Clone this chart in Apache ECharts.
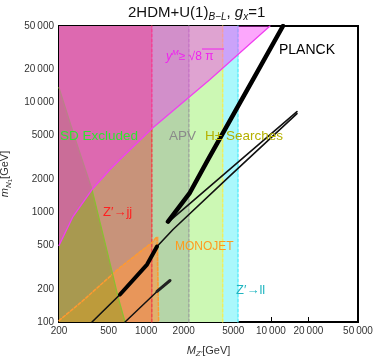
<!DOCTYPE html>
<html>
<head>
<meta charset="utf-8">
<script src="https://cdn.jsdelivr.net/npm/echarts@6.0.0/dist/echarts.min.js"></script>
<style>
  html, body { margin: 0; padding: 0; background: #fff; }
  #chart { width: 374px; height: 360px; }
</style>
</head>
<body>
<div id="chart"></div>
<script>
// axis ticks
const xTicks = [200, 500, 1000, 2000, 5000, 10000, 20000, 50000];
const yTicks = [100, 200, 500, 1000, 2000, 5000, 10000, 20000, 50000];

// exclusion limits on M_Z' (GeV)
const zllLimit = 5450;
const hpmLimit = 4110;
const apvLimit = 2200;
const zjjLimit = 1110;

// region edges [M_Z', m_N1]
const yukawaEdge = [[200, 498], [259, 915], [368, 1614], [513, 2455], [617, 3030], [1114, 5806], [3250, 16240], [9840, 50000]];
const sdEdge = [[200, 13700], [268, 4800], [368, 1614], [494, 412], [594, 171], [677, 100]];
const monojetEdge = [[200, 103], [306, 154], [617, 314], [1114, 530], [1222, 600], [1260, 600], [1260, 100]];

// relic density curves
const planckBranch = [[12510, 50000], [7187, 16240], [3133, 3030], [2246, 1515], [1497, 824]];
const relicUpper = [[1497, 824], [1554, 842], [4700, 2481], [16200, 8298]];
const relicLower = [[368, 100], [617, 178], [1016, 334], [1222, 488], [1642, 697], [4700, 2150], [16200, 7955]];
const relicLowerThick = [[617, 178], [1016, 334], [1222, 488]];
const relicSecond = [[677, 100], [1222, 190], [1554, 239]];
const relicSecondThick = [[1222, 190], [1554, 239]];

const xMin = 200, xMax = 50000, yMin = 100, yMax = 50000;

function fmt(v) {
  return v >= 10000 ? String(v).replace(/(\d+)(\d{3})$/, '$1\u2009$2') : String(v);
}

function areaSeries(pts, color, z) {
  return {
    type: 'custom',
    silent: true,
    clip: true,
    z: z,
    data: pts,
    renderItem: function (params, api) {
      if (params.dataIndex !== 0) return null;
      return {
        type: 'polygon',
        shape: { points: pts.map(function (p) { return api.coord(p); }) },
        style: { fill: color }
      };
    }
  };
}

function strip(limit) {
  return [[xMin, yMin], [xMin, yMax], [limit, yMax], [limit, yMin]];
}

function lineSeries(data, color, width, type, z) {
  return {
    type: 'line',
    data: data,
    showSymbol: false,
    silent: true,
    z: z,
    clip: true,
    lineStyle: { color: color, width: width, type: type || 'solid', cap: 'round', join: 'round' }
  };
}

const chart = echarts.init(document.getElementById('chart'));

const font = '"Liberation Sans", Arial, sans-serif';

const option = {
  animation: false,
  grid: {
    left: 59, right: 16, top: 26, bottom: 38, outerBoundsMode: 'none',
    show: true, borderColor: '#000', borderWidth: 2, backgroundColor: 'transparent'
  },
  xAxis: {
    type: 'log', min: xMin, max: xMax,
    name: '{i|M}{s|Z\u2032}{n|[GeV]}', nameLocation: 'middle', nameGap: 22,
    nameTextStyle: {
      rich: {
        i: { fontFamily: font, fontStyle: 'italic', fontSize: 11, color: '#333' },
        s: { fontFamily: font, fontStyle: 'italic', fontSize: 8, color: '#333', padding: [6, 0, 0, 0] },
        n: { fontFamily: font, fontSize: 11, color: '#333' }
      }
    },
    axisLine: { show: false },
    axisTick: { inside: true, length: 5, customValues: xTicks, lineStyle: { color: '#000', width: 1 } },
    axisLabel: { customValues: xTicks, formatter: fmt, fontFamily: font, fontSize: 10, color: '#333', margin: 4 },
    minorTick: { show: false },
    splitLine: { show: false }
  },
  yAxis: {
    type: 'log', min: yMin, max: yMax,
    name: '{i|m}{s|N}{ss|1}{n|[GeV]}', nameLocation: 'middle', nameGap: 44,
    nameTextStyle: {
      rich: {
        i: { fontFamily: font, fontStyle: 'italic', fontSize: 11, color: '#333' },
        s: { fontFamily: font, fontStyle: 'italic', fontSize: 8, color: '#333', padding: [6, 0, 0, 0] },
        ss: { fontFamily: font, fontSize: 6, color: '#333', padding: [10, 0, 0, 0] },
        n: { fontFamily: font, fontSize: 11, color: '#333' }
      }
    },
    axisLine: { show: false },
    axisTick: { inside: true, length: 5, customValues: yTicks, lineStyle: { color: '#000', width: 1 } },
    axisLabel: { customValues: yTicks, formatter: fmt, fontFamily: font, fontSize: 10, color: '#333', margin: 5 },
    minorTick: { show: false },
    splitLine: { show: false }
  },
  series: [
    areaSeries(strip(zllLimit), '#aaf8fc', 1),
    areaSeries(strip(hpmLimit), '#ccf8b4', 2),
    areaSeries(strip(apvLimit), '#b5d5a8', 3),
    areaSeries(strip(zjjLimit), '#c8937a', 4),
    areaSeries([[xMin, yMin]].concat(monojetEdge), 'rgba(253,152,69,0.6)', 5),
    areaSeries([[xMin, yMin]].concat(sdEdge), 'rgba(108,167,2,0.35)', 6),
    lineSeries([[zllLimit, yMin], [zllLimit, yMax]], '#5eeefc', 1.5, [3, 2], 7),
    lineSeries([[hpmLimit, yMin], [hpmLimit, yMax]], '#eef060', 1.5, [3, 2], 7),
    lineSeries([[apvLimit, yMin], [apvLimit, yMax]], '#a0a8a0', 1.5, [3, 2], 7),
    lineSeries([[zjjLimit, yMin], [zjjLimit, yMax]], '#f04848', 1.5, [3, 2], 7),
    lineSeries(monojetEdge, '#ff9a30', 1.5, [3, 2], 7),
    lineSeries(sdEdge, '#88c030', 1.2, 'solid', 7),
    areaSeries(yukawaEdge.concat([[xMin, yMax]]), 'rgba(248,51,248,0.43)', 8),
    lineSeries(yukawaEdge, '#f040f0', 1.3, 'solid', 9),
    lineSeries(relicSecond, '#111', 1.5, 'solid', 10),
    lineSeries(relicSecondThick, '#222', 3, 'solid', 10),
    lineSeries(relicLower, '#111', 1.6, 'solid', 10),
    lineSeries(relicLowerThick, '#000', 4, 'solid', 10),
    lineSeries(relicUpper, '#111', 1.6, 'solid', 10),
    lineSeries(planckBranch, '#000', 4.5, 'solid', 10)
  ],
  graphic: [
    {
      type: 'text', x: 128, y: 4, z: 20,
      style: {
        text: '{n|2HDM+U(1)}{s|B\u2212L}{n|, }{i|g}{si|x}{n|=1}',
        rich: {
          n: { fontFamily: font, fontSize: 15, fill: '#111' },
          i: { fontFamily: font, fontSize: 15, fontStyle: 'italic', fill: '#111' },
          s: { fontFamily: font, fontSize: 10, fontStyle: 'italic', fill: '#111', padding: [8, 0, 0, 0] },
          si: { fontFamily: font, fontSize: 10, fontStyle: 'italic', fill: '#111', padding: [8, 0, 0, 0] }
        }
      }
    },
    { type: 'text', x: 279, y: 43, z: 20, style: { text: 'PLANCK', font: '14px ' + font, fill: '#000' } },
    {
      type: 'text', x: 166, y: 49, z: 20,
      style: {
        text: '{i|y}{s|M}{n|\u2265 \u221A8 \u03C0}',
        rich: {
          i: { fontFamily: font, fontSize: 12, fontStyle: 'italic', fill: '#f020f0' },
          s: { fontFamily: font, fontSize: 8, fontStyle: 'italic', fill: '#f020f0', padding: [0, 0, 7, 0] },
          n: { fontFamily: font, fontSize: 12, fill: '#f020f0' }
        }
      }
    },
    { type: 'line', z: 20, shape: { x1: 202, y1: 49, x2: 224, y2: 49 }, style: { stroke: '#f020f0', lineWidth: 1 } },
    { type: 'text', x: 60, y: 129, z: 20, style: { text: 'SD Excluded', font: '13.5px ' + font, fill: '#2ee62e' } },
    { type: 'text', x: 169, y: 129, z: 20, style: { text: 'APV', font: '13.5px ' + font, fill: '#8a8a8a' } },
    { type: 'text', x: 205, y: 129, z: 20, style: { text: 'H\u00B1 Searches', font: '13.5px ' + font, fill: '#b5b000' } },
    { type: 'text', x: 103, y: 206, z: 20, style: { text: 'Z\u2032\u2192jj', font: '13px ' + font, fill: '#ff2020' } },
    { type: 'text', x: 175, y: 241, z: 20, style: { text: 'MONOJET', font: '12px ' + font, fill: '#ff9a1e' } },
    { type: 'text', x: 236, y: 284, z: 20, style: { text: 'Z\u2032\u2192ll', font: '13px ' + font, fill: '#20b5c0' } }
  ]
};

chart.setOption(option);
</script>
</body>
</html>
